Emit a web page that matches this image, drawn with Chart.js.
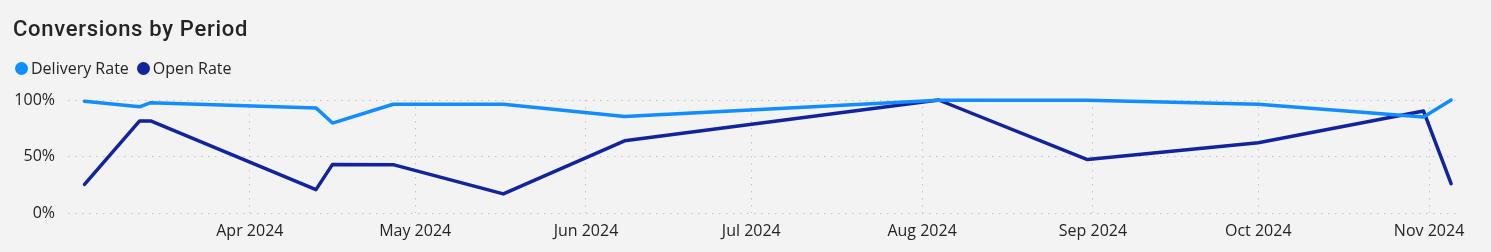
<!DOCTYPE html>
<html>
<head>
<meta charset="utf-8">
<script src="https://cdn.jsdelivr.net/npm/chart.js"></script>
<style>
  html, body { margin: 0; padding: 0; background: #f3f3f3; }
  #wrap { position: relative; width: 1491px; height: 252px; overflow: hidden; }
  #title { position: absolute; left: 13px; top: 16px; font: 500 22px Roboto, sans-serif; color: #252423; letter-spacing: 0.7px; white-space: nowrap; }
  #legend { position: absolute; left: 15px; top: 57px; font: 16px "Open Sans", sans-serif; color: #252423; display: flex; align-items: center; white-space: nowrap; }
  #legend span.dot { display: inline-block; width: 13px; height: 13px; border-radius: 50%; margin-right: 3px; }
  #legend span.item { display: flex; align-items: center; margin-right: 8px; }
  canvas { position: absolute; left: 0; top: 0; }
</style>
</head>
<body>
<div id="wrap">
  <canvas id="chart" width="1491" height="252"></canvas>
  <div id="title">Conversions by Period</div>
  <div id="legend"></div>
</div>
<script>
// data
const dates = ['2024-03-02', '2024-03-12', '2024-03-14', '2024-04-13', '2024-04-16', '2024-04-27', '2024-05-17',
               '2024-06-08', '2024-08-04', '2024-08-31', '2024-10-01', '2024-10-31', '2024-11-05'];
const deliveryRate = [98.8, 94, 97.6, 93, 79.6, 96.2, 96.2, 85.3, 99.7, 99.7, 96.2, 85, 100];
const openRate = [25.3, 81.5, 81.5, 20.7, 43, 42.8, 16.9, 63.9, 100, 47.3, 62.2, 90.2, 25.9];
const monthTicks = ['2024-04-01', '2024-05-01', '2024-06-01', '2024-07-01', '2024-08-01', '2024-09-01', '2024-10-01', '2024-11-01'];
const monthLabels = ['Apr 2024', 'May 2024', 'Jun 2024', 'Jul 2024', 'Aug 2024', 'Sep 2024', 'Oct 2024', 'Nov 2024'];
const yTicks = [0, 50, 100];

const seriesNames = ['Delivery Rate', 'Open Rate'];
const colors = ['#118DFF', '#12239E'];

const t = s => Date.parse(s + (s.length > 10 ? 'Z' : 'T00:00:00Z'));
const xs = dates.map(t);

const legend = document.getElementById('legend');
seriesNames.forEach((n, i) => {
  legend.innerHTML += `<span class="item"><span class="dot" style="background:${colors[i]}"></span>${n}</span>`;
});

// dotted grid lines, no axis line
const grid = { color: '#c4c4c4', lineWidth: 1, drawTicks: false };
const border = { display: false, dash: [1.5, 5.5] };
const tickFont = { family: 'Open Sans', size: 16 };

new Chart(document.getElementById('chart'), {
  type: 'line',
  data: {
    datasets: [
      { label: seriesNames[0], data: xs.map((x, i) => ({ x, y: deliveryRate[i] })), borderColor: colors[0] },
      { label: seriesNames[1], data: xs.map((x, i) => ({ x, y: openRate[i] })), borderColor: colors[1] }
    ].map(d => Object.assign(d, { borderWidth: 3.5, pointRadius: 0, tension: 0, clip: false, borderCapStyle: 'round', borderJoinStyle: 'round' }))
  },
  options: {
    responsive: false,
    animation: false,
    layout: { padding: { top: 100, right: 33, bottom: 0, left: 0 } },
    plugins: { legend: { display: false }, tooltip: { enabled: false }, title: { display: false } },
    scales: {
      x: {
        type: 'linear',
        min: t('2024-02-28'),
        max: t('2024-11-06T06:00:00'),
        grid: grid,
        border: border,
        afterFit: s => { s.height = 39; },
        afterBuildTicks: s => { s.ticks = monthTicks.map(m => ({ value: t(m) })); },
        ticks: {
          padding: 9,
          color: '#252423',
          font: tickFont,
          maxRotation: 0,
          autoSkip: false,
          callback: (v) => monthLabels[monthTicks.map(t).indexOf(v)]
        }
      },
      y: {
        min: 0,
        max: 100,
        grid: grid,
        border: border,
        afterFit: s => { s.width = 68; },
        afterBuildTicks: s => { s.ticks = yTicks.map(v => ({ value: v })); },
        ticks: { padding: 13, color: '#252423', font: tickFont, callback: v => v + '%' }
      }
    }
  }
});
</script>
</body>
</html>
